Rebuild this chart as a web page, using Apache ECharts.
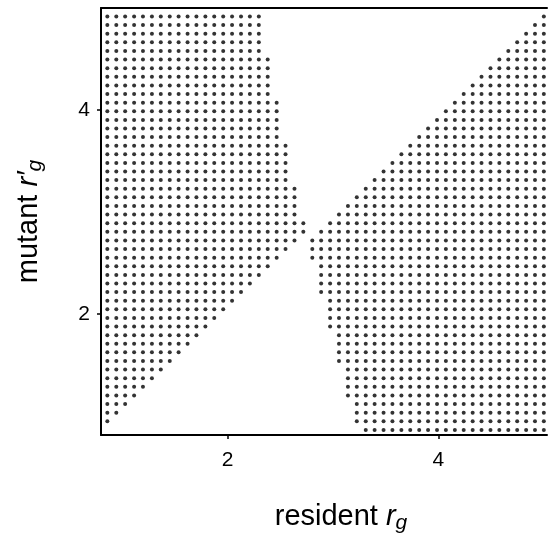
<!DOCTYPE html>
<html>
<head>
<meta charset="utf-8">
<script src="https://cdn.jsdelivr.net/npm/echarts@6/dist/echarts.min.js"></script>
<style>
  html, body { margin: 0; padding: 0; background: #fff; }
  #chart { width: 550px; height: 535px; }
</style>
</head>
<body>
<div id="chart"></div>
<script>
// lattice of trait values used on both axes (resident r_g and mutant r'_g)
const traitGrid = [
  0.860, 0.945, 1.029, 1.114, 1.198, 1.283, 1.367, 1.452, 1.536, 1.621,
  1.705, 1.790, 1.874, 1.959, 2.043, 2.128, 2.212, 2.297, 2.381, 2.466,
  2.550, 2.635, 2.719, 2.804, 2.888, 2.973, 3.057, 3.142, 3.226, 3.311,
  3.395, 3.480, 3.564, 3.649, 3.733, 3.818, 3.902, 3.987, 4.071, 4.156,
  4.240, 4.325, 4.409, 4.494, 4.578, 4.663, 4.747, 4.832, 4.916, 5.000
]

// per mutant row (bottom -> top): how many lattice points from the left are dotted
const leftCount = [
  0, 1, 2, 3, 4, 5, 6, 7, 8, 9, 10, 11, 12, 13, 14, 15, 16, 17, 18, 19, 20, 21, 22, 23,
  23,
  22, 22, 22, 22,
  21, 21, 21, 21, 21,
  20, 20, 20, 20, 20,
  19, 19, 19, 19, 19,
  18, 18, 18, 18, 18
]

// per mutant row (bottom -> top): first dotted lattice index on the right side
const rightStart = [
  29,
  28, 28, 28,
  27, 27, 27, 27,
  26, 26, 26, 26,
  25, 25, 25, 25,
  24, 24, 24, 24,
  23, 23,
  23, 24, 25, 26, 27, 28, 29, 30, 31, 32, 33, 34, 35, 36, 37, 38, 39, 40,
  41, 42, 43, 44, 45, 46, 47, 48, 49
]

const tickValues = [2, 4]

const font = 'Liberation Sans, Arial, Helvetica, sans-serif'

const getPoints = () => {
  let pts = []
  leftCount.forEach((n, k) => {
    const y = traitGrid[k]
    for (let i = 0; i < n; i++) pts.push([traitGrid[i], y])
    for (let i = rightStart[k]; i < traitGrid.length; i++) pts.push([traitGrid[i], y])
  })
  return pts
}

const mChart = echarts.init(document.getElementById('chart'))

const nameRich = {
  r: { fontFamily: font, fontSize: 29, fontStyle: 'italic', color: '#000' },
  g: { fontFamily: font, fontSize: 21, fontStyle: 'italic', color: '#000', padding: [14, 0, 0, 0] }
}

const options = {
  animation: false,
  grid: { left: 101, top: 8, width: 446, height: 427, outerBoundsMode: 'none', containLabel: false },
  xAxis: [
    {
      type: 'value',
      min: 0.8,
      max: 5.03,
      name: 'resident {r|r}{g|g}',
      nameLocation: 'middle',
      nameGap: 64,
      nameTextStyle: {
        fontFamily: font,
        fontSize: 29,
        color: '#000',
        padding: [0, 0, 0, 34],
        rich: nameRich
      },
      axisLine: { show: true, lineStyle: { color: '#000', width: 2 } },
      axisTick: { show: true, customValues: tickValues, length: 4, lineStyle: { color: '#000', width: 1.5 } },
      axisLabel: { customValues: tickValues, fontFamily: font, fontSize: 21, color: '#000', margin: 15 },
      splitLine: { show: false }
    },
    {
      // top frame line
      type: 'value',
      position: 'top',
      min: 0.8,
      max: 5.03,
      axisLine: { show: true, lineStyle: { color: '#000', width: 2 } },
      axisTick: { show: false },
      axisLabel: { show: false },
      splitLine: { show: false }
    }
  ],
  yAxis: [
    {
      type: 'value',
      min: 0.81,
      max: 5.0,
      name: 'mutant {r|r′}{g|g}',
      nameLocation: 'middle',
      nameGap: 55,
      nameRotate: 90,
      nameTextStyle: {
        fontFamily: font,
        fontSize: 29,
        color: '#000',
        rich: nameRich
      },
      axisLine: { show: true, lineStyle: { color: '#000', width: 2 } },
      axisTick: { show: true, customValues: tickValues, length: 4, lineStyle: { color: '#000', width: 1.5 } },
      axisLabel: { customValues: tickValues, fontFamily: font, fontSize: 21, color: '#000', margin: 11 },
      splitLine: { show: false }
    }
  ],
  series: [
    {
      type: 'scatter',
      silent: true,
      symbol: 'circle',
      symbolSize: 4,
      itemStyle: { color: '#000' },
      data: getPoints()
    }
  ]
}

mChart.setOption(options)
</script>
</body>
</html>
